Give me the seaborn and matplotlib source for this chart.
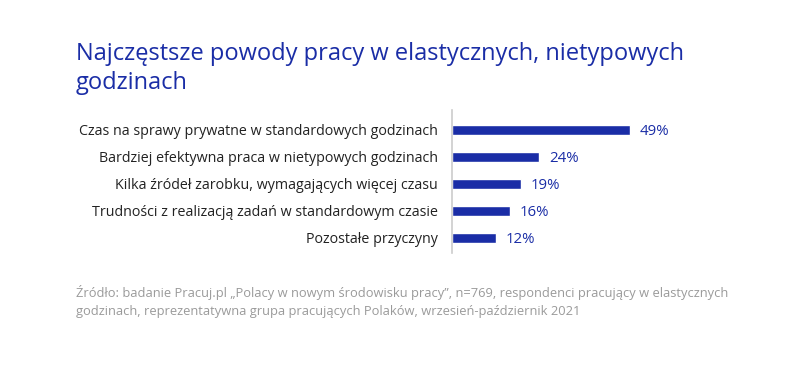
import matplotlib
matplotlib.use('Agg')
import matplotlib.pyplot as plt
import seaborn as sns
import pandas as pd

# data
reasons = ['Czas na sprawy prywatne w standardowych godzinach',
           'Bardziej efektywna praca w nietypowych godzinach',
           'Kilka źródeł zarobku, wymagających więcej czasu',
           'Trudności z realizacją zadań w standardowym czasie',
           'Pozostałe przyczyny']
shares = [49, 24, 19, 16, 12]

title = 'Najczęstsze powody pracy w elastycznych, nietypowych\ngodzinach'
source = ('Źródło: badanie Pracuj.pl „Polacy w nowym środowisku pracy”, n=769, respondenci pracujący w elastycznych\n'
          'godzinach, reprezentatywna grupa pracujących Polaków, wrzesień-październik 2021')

df = pd.DataFrame({'reason': reasons, 'share': shares})

sns.set_style('white')
plt.rcParams['font.family'] = ['Open Sans', 'DejaVu Sans']

blue = '#1a2da6'

fig = plt.figure(figsize=(8, 3.84), dpi=100)
ax = fig.add_axes([0.565, 1 - 253 / 384, 0.385, 143 / 384])

sns.barplot(data=df, x='share', y='reason', color=blue, width=0.36,
            saturation=1, ax=ax)

ax.set_xlim(0, 308 / 3.63)
ax.set_ylim(4.556, -0.74)
ax.set_xlabel('')
ax.set_ylabel('')
ax.set_xticks([])
ax.tick_params(axis='y', length=0, pad=10, labelsize=10.25, labelcolor='#222222')
for s in ['top', 'right', 'bottom']:
    ax.spines[s].set_visible(False)
ax.spines['left'].set_color('#cccccc')
ax.spines['left'].set_linewidth(1.2)

for i, v in enumerate(shares):
    ax.annotate(f'{v}%', (v, i), xytext=(7, -1), textcoords='offset points',
                va='center', ha='left', fontsize=10.8, color=blue)

fig.text(76 / 800, 1 - 42 / 384, title, fontsize=17, color='#1a2da6',
         va='top', ha='left', linespacing=1.3)
fig.text(76 / 800, 1 - 285 / 384, source, fontsize=9.3, color='#9a9a9a',
         va='top', ha='left', linespacing=1.5)

fig.savefig('out.png', dpi=100, facecolor='white')
